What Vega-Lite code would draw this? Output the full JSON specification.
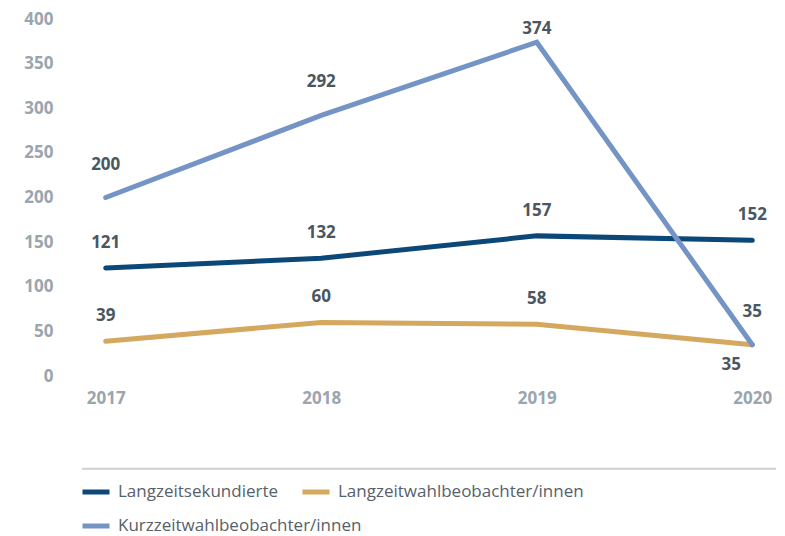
{
  "$schema": "https://vega.github.io/schema/vega-lite/v6.json",
  "width": 694,
  "height": 357,
  "autosize": "none",
  "padding": {"left": 82, "top": 19, "right": 9, "bottom": 160},
  "background": "white",
  "config": {"view": {"stroke": null}, "font": "Open Sans"},
  "data": {
    "values": [
      {"year": "2017", "series": "Langzeitsekundierte", "value": 121},
      {"year": "2018", "series": "Langzeitsekundierte", "value": 132},
      {"year": "2019", "series": "Langzeitsekundierte", "value": 157},
      {"year": "2020", "series": "Langzeitsekundierte", "value": 152},
      {"year": "2017", "series": "Langzeitwahlbeobachter/innen", "value": 39},
      {"year": "2018", "series": "Langzeitwahlbeobachter/innen", "value": 60},
      {"year": "2019", "series": "Langzeitwahlbeobachter/innen", "value": 58},
      {"year": "2020", "series": "Langzeitwahlbeobachter/innen", "value": 35},
      {"year": "2017", "series": "Kurzzeitwahlbeobachter/innen", "value": 200},
      {"year": "2018", "series": "Kurzzeitwahlbeobachter/innen", "value": 292},
      {"year": "2019", "series": "Kurzzeitwahlbeobachter/innen", "value": 374},
      {"year": "2020", "series": "Kurzzeitwahlbeobachter/innen", "value": 35}
    ]
  },
  "layer": [
    {
      "data": {"values": [{}]},
      "mark": {"type": "rule", "color": "#CDD1D5", "strokeWidth": 2},
      "encoding": {
        "y": {"datum": -104, "type": "quantitative", "scale": {"domain": [0, 400]}}
      }
    },
    {
      "transform": [{"filter": "datum.series !== 'Kurzzeitwahlbeobachter/innen'"}],
      "mark": {"type": "line", "strokeWidth": 5, "strokeCap": "round"},
      "encoding": {
        "x": {
          "field": "year", "type": "ordinal",
          "scale": {"type": "point", "padding": 0.11},
          "axis": {
            "title": null, "labelAngle": 0, "domain": false, "ticks": false,
            "labelPadding": 14, "labelFont": "Open Sans", "labelFontSize": 17,
            "labelFontWeight": "bold", "labelColor": "#9AA5AE", "grid": false
          }
        },
        "y": {
          "field": "value", "type": "quantitative",
          "scale": {"domain": [0, 400]},
          "axis": {
            "title": null, "values": [0, 50, 100, 150, 200, 250, 300, 350, 400],
            "domain": false, "ticks": false, "labelPadding": 29,
            "labelFont": "Open Sans", "labelFontSize": 17, "labelFontWeight": "bold",
            "labelColor": "#9AA5AE", "gridColor": "#CDD1D5", "gridWidth": 2
          }
        },
        "color": {
          "field": "series", "type": "nominal",
          "scale": {
            "domain": ["Langzeitsekundierte", "Langzeitwahlbeobachter/innen"],
            "range": ["#0B4878", "#D5A85F"]
          },
          "legend": {
            "title": null, "orient": "none", "legendX": -2, "legendY": 457,
            "direction": "horizontal", "columns": 2,
            "columnPadding": 13, "padding": 0,
            "symbolType": "stroke", "symbolSize": 729, "symbolStrokeWidth": 5,
            "labelOffset": 6, "labelFont": "Open Sans", "labelFontSize": 17,
            "labelColor": "#56616A", "labelLimit": 400
          }
        }
      }
    },
    {
      "transform": [{"filter": "datum.series === 'Kurzzeitwahlbeobachter/innen'"}],
      "mark": {"type": "line", "strokeWidth": 5, "strokeCap": "round"},
      "encoding": {
        "x": {"field": "year", "type": "ordinal"},
        "y": {"field": "value", "type": "quantitative"},
        "stroke": {
          "field": "series", "type": "nominal",
          "scale": {"domain": ["Kurzzeitwahlbeobachter/innen"], "range": ["#7394C5"]},
          "legend": {
            "title": null, "orient": "none", "legendX": -2, "legendY": 491,
            "padding": 0,
            "symbolType": "stroke", "symbolSize": 729, "symbolStrokeWidth": 5,
            "labelOffset": 6, "labelFont": "Open Sans", "labelFontSize": 17,
            "labelColor": "#56616A", "labelLimit": 400
          }
        }
      }
    },
    {
      "transform": [{"filter": "datum.series === 'Kurzzeitwahlbeobachter/innen' && datum.year !== '2019'"}],
      "mark": {"type": "text", "dy": -33, "font": "Open Sans", "fontSize": 17, "fontWeight": "bold", "color": "#4B5760"},
      "encoding": {
        "x": {"field": "year", "type": "ordinal"},
        "y": {"field": "value", "type": "quantitative"},
        "text": {"field": "value", "type": "quantitative"}
      }
    },
    {
      "transform": [{"filter": "datum.series === 'Kurzzeitwahlbeobachter/innen' && datum.year === '2019'"}],
      "mark": {"type": "text", "dy": -13, "font": "Open Sans", "fontSize": 17, "fontWeight": "bold", "color": "#4B5760"},
      "encoding": {
        "x": {"field": "year", "type": "ordinal"},
        "y": {"field": "value", "type": "quantitative"},
        "text": {"field": "value", "type": "quantitative"}
      }
    },
    {
      "transform": [{"filter": "datum.series !== 'Kurzzeitwahlbeobachter/innen' && !(datum.series === 'Langzeitwahlbeobachter/innen' && datum.year === '2020')"}],
      "mark": {"type": "text", "dy": -25, "font": "Open Sans", "fontSize": 17, "fontWeight": "bold", "color": "#4B5760"},
      "encoding": {
        "x": {"field": "year", "type": "ordinal"},
        "y": {"field": "value", "type": "quantitative"},
        "text": {"field": "value", "type": "quantitative"}
      }
    },
    {
      "transform": [{"filter": "datum.series === 'Langzeitwahlbeobachter/innen' && datum.year === '2020'"}],
      "mark": {"type": "text", "dy": 20, "dx": -21, "font": "Open Sans", "fontSize": 17, "fontWeight": "bold", "color": "#4B5760"},
      "encoding": {
        "x": {"field": "year", "type": "ordinal"},
        "y": {"field": "value", "type": "quantitative"},
        "text": {"field": "value", "type": "quantitative"}
      }
    }
  ]
}
